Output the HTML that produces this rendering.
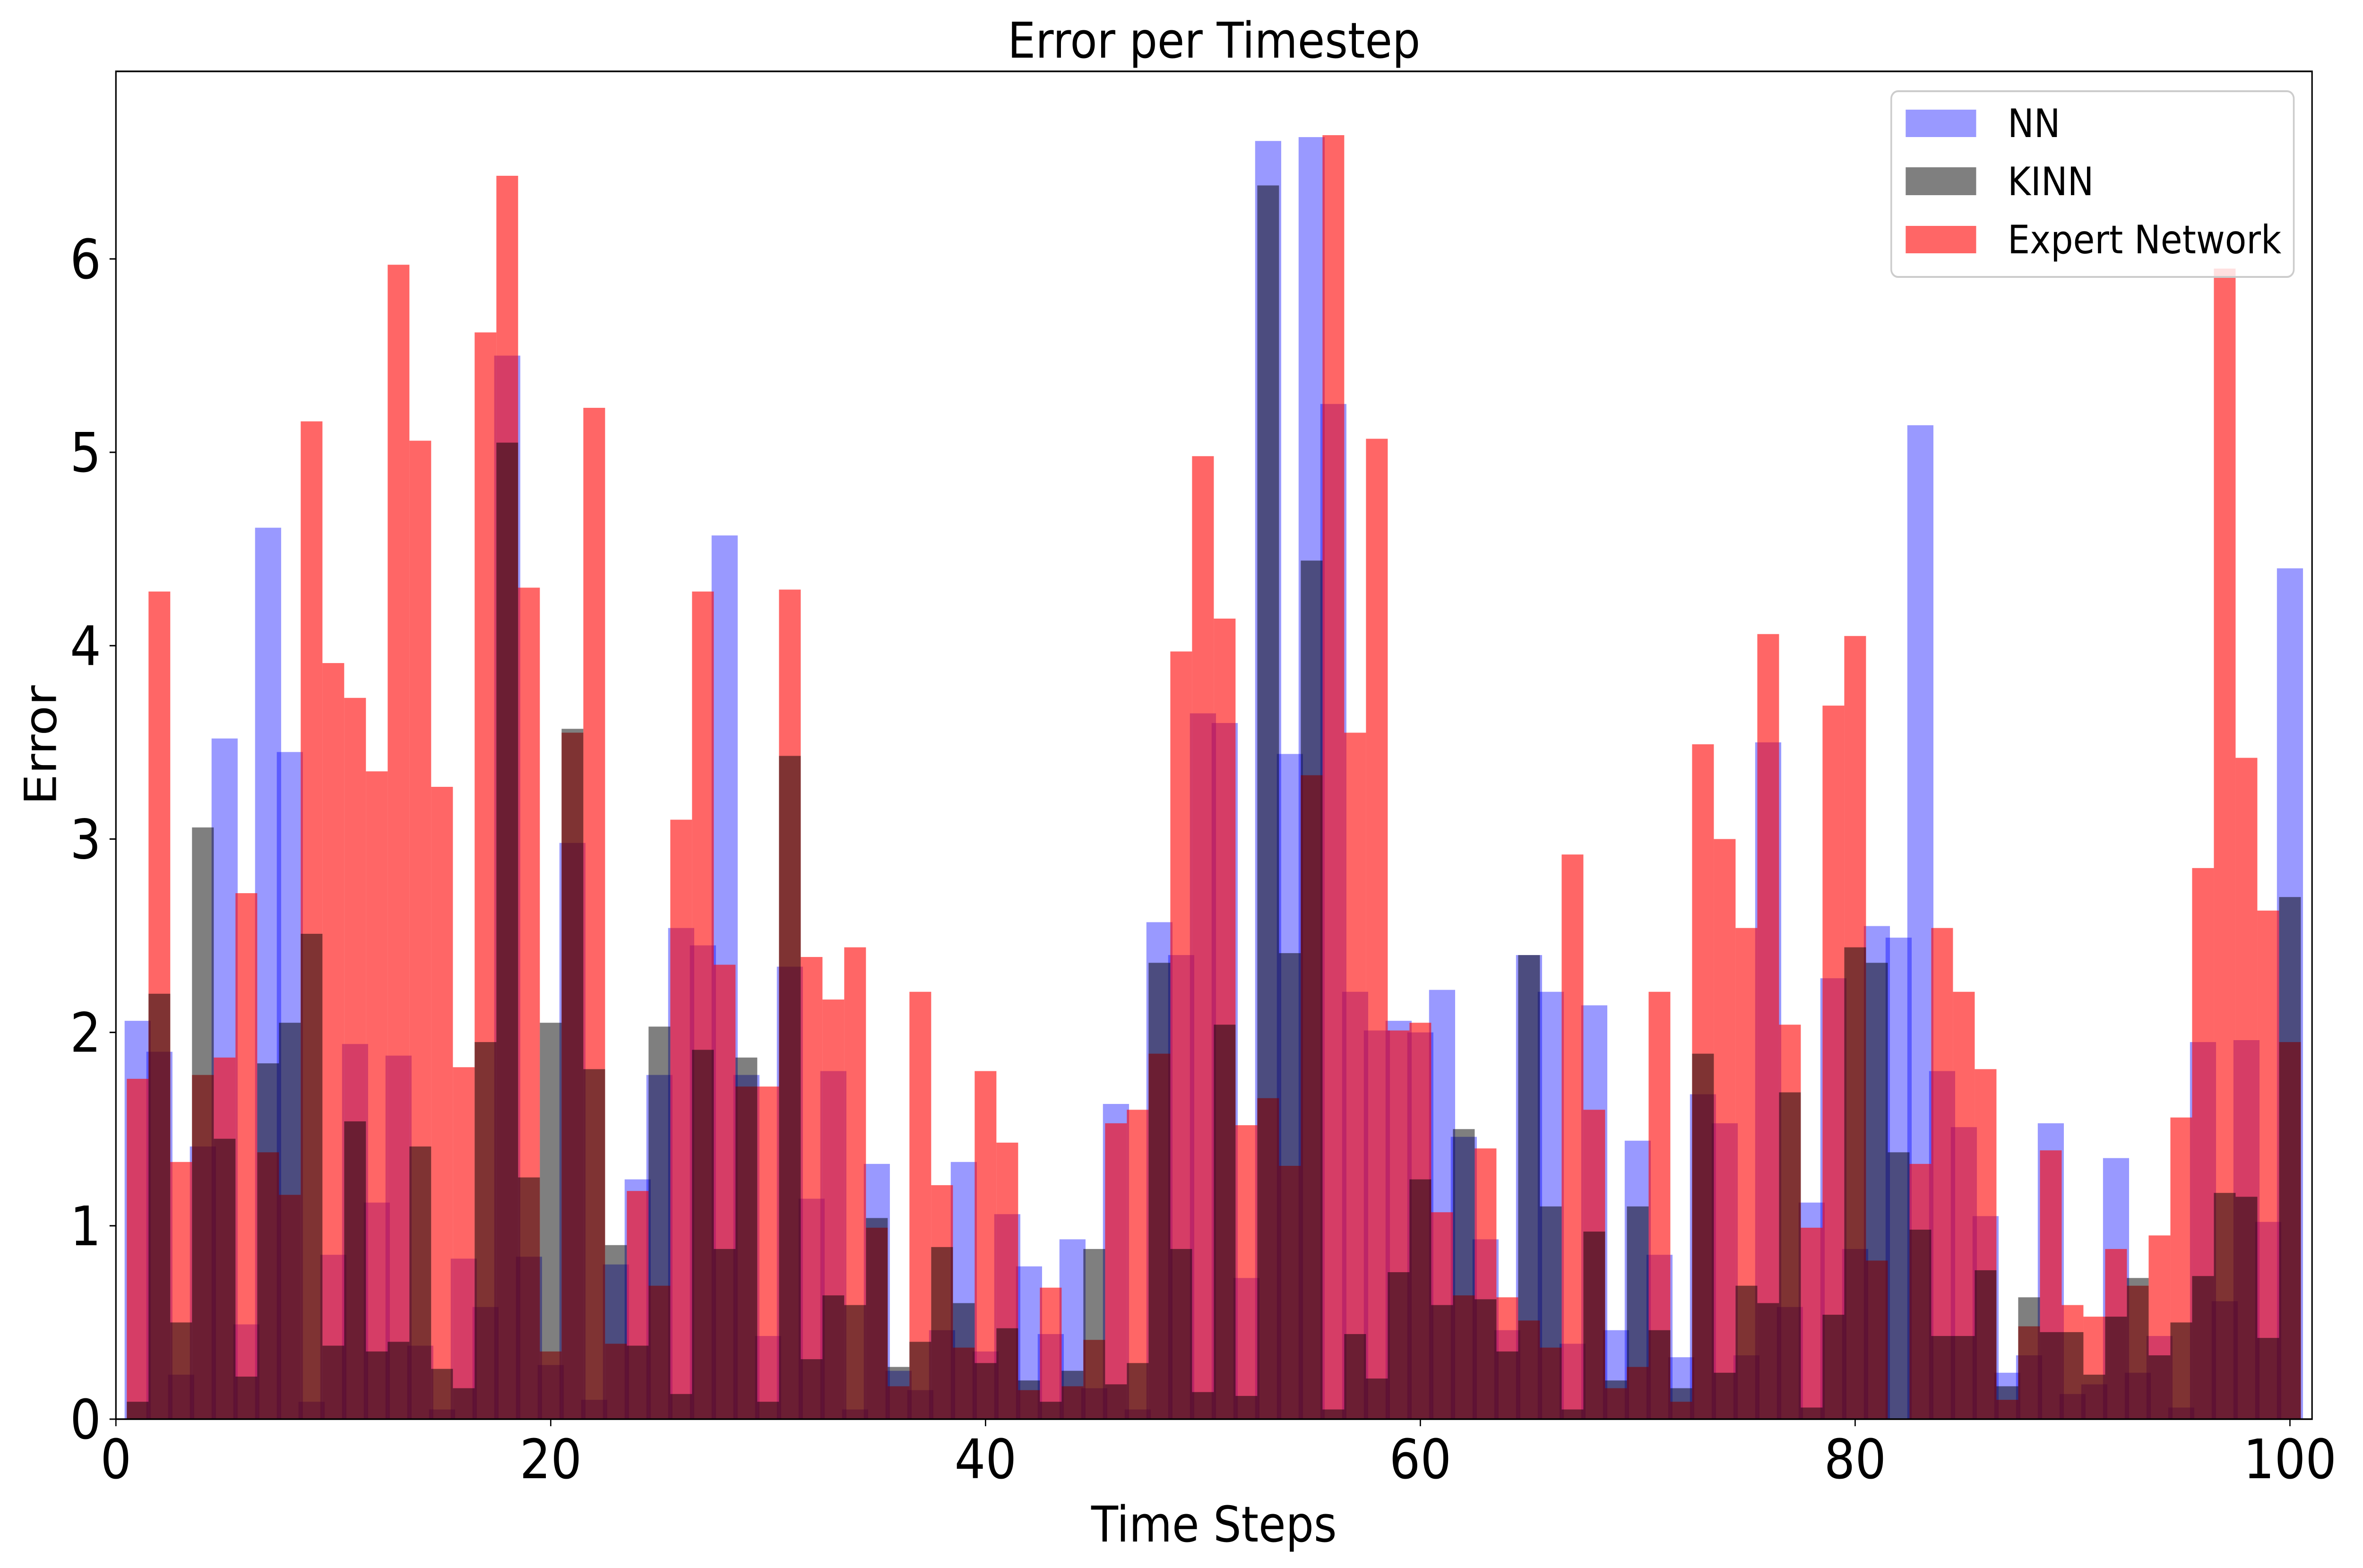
<!DOCTYPE html>
<html><head><meta charset="utf-8"><title>Error per Timestep</title>
<style>html,body{margin:0;padding:0;background:#fff;width:100%;height:100%;overflow:hidden}svg{display:block;width:100vw;height:100vh}text{font-family:"DejaVu Sans","Liberation Sans",sans-serif}</style>
</head><body>
<svg id="chart" xmlns="http://www.w3.org/2000/svg" viewBox="0 0 5565 3318" preserveAspectRatio="none">
<rect x="0" y="0" width="5565" height="3318" fill="#fff"/>
<g id="bars"></g>
<g id="axes"></g>
<text x="2859" y="122" font-size="104" text-anchor="middle">Error per Timestep</text>
<text x="2859" y="3262" font-size="104" text-anchor="middle">Time Steps</text>
<text x="0" y="0" font-size="104" text-anchor="middle" transform="translate(132,1577) rotate(-90)">Error</text>
<g>
<rect x="4454" y="193" width="948" height="393" rx="16" ry="16" fill="#fff" fill-opacity="0.8" stroke="#cccccc" stroke-width="4"/>
<rect x="4488" y="232" width="166" height="58" fill="#0000ff" fill-opacity="0.4"/>
<text x="4728" y="290" font-size="83">NN</text>
<rect x="4488" y="354" width="166" height="59" fill="#000" fill-opacity="0.5"/>
<text x="4728" y="413" font-size="83">KINN</text>
<rect x="4488" y="478" width="166" height="58" fill="#ff0000" fill-opacity="0.6"/>
<text x="4728" y="536" font-size="83">Expert Network</text>
</g>
</svg>
<script>
const steps = Array.from({length:100},(_, i) => i + 1);
const nnValues = [2.06,1.90,0.23,1.41,3.52,0.49,4.61,3.45,0.09,0.85,1.94,1.12,1.88,0.38,0.05,0.83,0.58,5.50,0.84,0.28,
2.98,0.10,0.80,1.24,1.78,2.54,2.45,4.57,1.78,0.43,2.34,1.14,1.80,0.05,1.32,0.25,0.15,0.46,1.33,0.35,
1.06,0.79,0.44,0.93,0.16,1.63,0.05,2.57,2.40,3.65,3.60,0.73,6.61,3.44,6.63,5.25,2.21,2.01,2.06,2.00,
2.22,1.46,0.93,0.46,2.40,2.21,0.39,2.14,0.46,1.44,0.85,0.32,1.68,1.53,0.33,3.50,0.58,1.12,2.28,0.88,
2.55,2.49,5.14,1.80,1.51,1.05,0.24,0.33,1.53,0.13,0.18,1.35,0.24,0.43,0.06,1.95,0.61,1.96,1.02,4.40];
const kinnValues = [0.09,2.20,0.50,3.06,1.45,0.22,1.84,2.05,2.51,0.38,1.54,0.35,0.40,1.41,0.26,0.16,1.95,5.05,1.25,2.05,
3.57,1.81,0.90,0.38,2.03,0.13,1.91,0.88,1.87,0.09,3.43,0.31,0.64,0.59,1.04,0.27,0.40,0.89,0.60,0.29,
0.47,0.20,0.09,0.25,0.88,0.18,0.29,2.36,0.88,0.14,2.04,0.12,6.38,2.41,4.44,0.05,0.44,0.21,0.76,1.24,
0.59,1.50,0.62,0.35,2.40,1.10,0.05,0.97,0.20,1.10,0.46,0.16,1.89,0.24,0.69,0.60,1.69,0.06,0.54,2.44,
2.36,1.38,0.98,0.43,0.43,0.77,0.17,0.63,0.45,0.45,0.23,0.53,0.73,0.33,0.50,0.74,1.17,1.15,0.42,2.70];
const expertValues = [1.76,4.28,1.33,1.78,1.87,2.72,1.38,1.16,5.16,3.91,3.73,3.35,5.97,5.06,3.27,1.82,5.62,6.43,4.30,0.35,
3.55,5.23,0.39,1.18,0.69,3.10,4.28,2.35,1.72,1.72,4.29,2.39,2.17,2.44,0.99,0.17,2.21,1.21,0.37,1.80,
1.43,0.15,0.68,0.17,0.41,1.53,1.60,1.89,3.97,4.98,4.14,1.52,1.66,1.31,3.33,6.64,3.55,5.07,2.01,2.05,
1.07,0.64,1.40,0.63,0.51,0.37,2.92,1.60,0.16,0.27,2.21,0.09,3.49,3.00,2.54,4.06,2.04,0.99,3.69,4.05,
0.82,0.00,1.32,2.54,2.21,1.81,0.10,0.48,1.39,0.59,0.53,0.88,0.69,0.95,1.56,2.85,5.95,3.42,2.63,1.95];
const xTicks = [0,20,40,60,80,100];
const yTicks = [0,1,2,3,4,5,6];

const NS = "http://www.w3.org/2000/svg";
const X0 = 273, X1 = 5445, Y0 = 3003, Y1 = 151;
const xMin = 0, xMax = 101.016, yMin = 0, yMax = 6.97;
function xs(v){ return X0 + (v - xMin) / (xMax - xMin) * (X1 - X0); }
function ys(v){ return Y0 - (v - yMin) / (yMax - yMin) * (Y0 - Y1); }
function mk(tag, attrs, parent){ const e = document.createElementNS(NS, tag); for (const k in attrs) e.setAttribute(k, attrs[k]); parent.appendChild(e); return e; }

const bars = document.getElementById('bars');
function drawSeries(vals, color, op, width, name){
  const g = mk('g', {}, bars);
  
  
  vals.forEach((v, i) => {
    const s = steps[i];
    const xl = xs(s - width/2), xr = xs(s + width/2);
    const r = mk('rect', {x: xl, y: ys(v), width: xr - xl, height: ys(0) - ys(v), fill: color, 'fill-opacity': op}, g);
    
    
  });
}
drawSeries(nnValues, '#0000ff', 0.4, 1.2, 'nn');
drawSeries(expertValues, '#ff0000', 0.6, 1.0, 'expert');
drawSeries(kinnValues, '#000000', 0.5, 1.0, 'kinn');

const axes = document.getElementById('axes');
const frame = mk('rect', {x: X0, y: Y1, width: X1 - X0, height: Y0 - Y1, fill: 'none', stroke: '#000', 'stroke-width': 3.5}, axes);


xTicks.forEach(t => {
  const x = xs(t);
  const tk = mk('line', {x1: x, y1: Y0, x2: x, y2: Y0 + 15, stroke: '#000', 'stroke-width': 3}, axes);
  
  
  const lb = mk('text', {x: x, y: 3128, 'font-size': 115, 'text-anchor': 'middle'}, axes);
  lb.textContent = String(t);
  
  
});
yTicks.forEach(t => {
  const y = ys(t);
  const tk = mk('line', {x1: X0 - 15, y1: y, x2: X0, y2: y, stroke: '#000', 'stroke-width': 3}, axes);
  
  
  const lb = mk('text', {x: 238, y: y + 41, 'font-size': 115, 'text-anchor': 'end'}, axes);
  lb.textContent = String(t);
  
  
});
</script>
</body></html>
